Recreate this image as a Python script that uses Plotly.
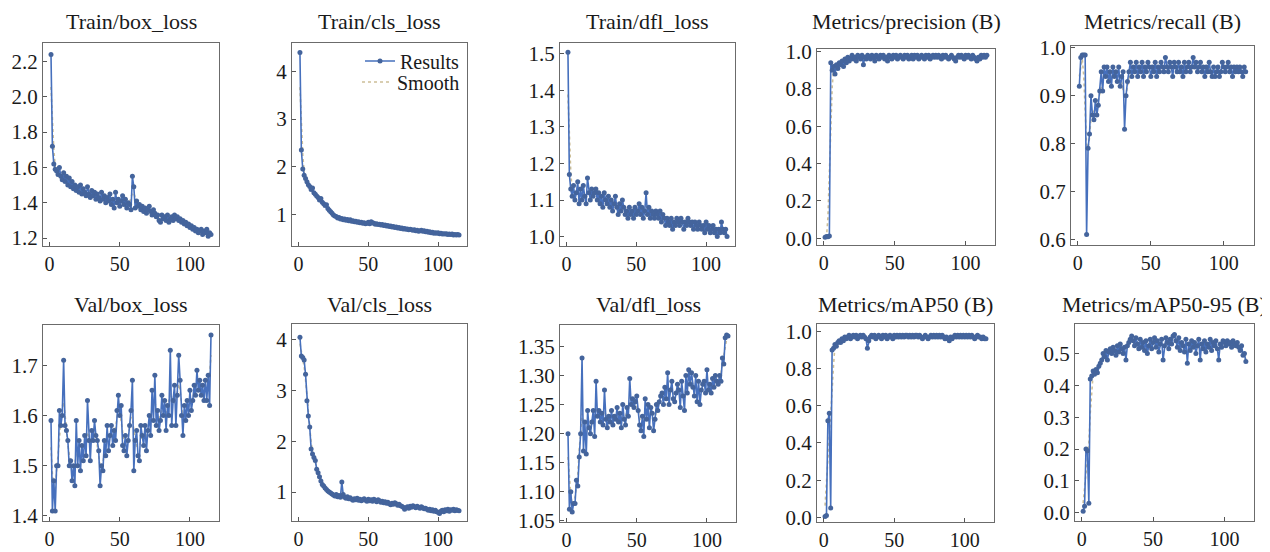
import numpy as np
import plotly.graph_objects as go
from plotly.subplots import make_subplots

titles = ['Train/box_loss', 'Train/cls_loss', 'Train/dfl_loss', 'Metrics/precision (B)', 'Metrics/recall (B)',
          'Val/box_loss', 'Val/cls_loss', 'Val/dfl_loss', 'Metrics/mAP50 (B)', 'Metrics/mAP50-95 (B)']

train_box = [2.24, 1.72, 1.62, 1.59, 1.58, 1.56, 1.60, 1.55, 1.53, 1.57,
             1.52, 1.55, 1.50, 1.54, 1.49, 1.52, 1.48, 1.50, 1.47, 1.49,
             1.46, 1.50, 1.45, 1.48, 1.46, 1.44, 1.49, 1.45, 1.43, 1.47,
             1.44, 1.46, 1.42, 1.45, 1.43, 1.41, 1.46, 1.42, 1.44, 1.40,
             1.43, 1.41, 1.45, 1.39, 1.42, 1.37, 1.46, 1.40, 1.42, 1.38,
             1.41, 1.44, 1.39, 1.42, 1.37, 1.40, 1.39, 1.36, 1.55, 1.49,
             1.37, 1.41, 1.38, 1.39, 1.36, 1.38, 1.35, 1.37, 1.34, 1.36,
             1.38, 1.35, 1.33, 1.36, 1.34, 1.32, 1.33, 1.30, 1.29, 1.33,
             1.31, 1.32, 1.30, 1.33, 1.29, 1.31, 1.32, 1.30, 1.33, 1.31,
             1.32, 1.30, 1.31, 1.29, 1.30, 1.28, 1.29, 1.27, 1.28, 1.26,
             1.27, 1.25, 1.26, 1.24, 1.25, 1.23, 1.24, 1.25, 1.22, 1.24,
             1.23, 1.25, 1.21, 1.23, 1.22]

train_cls = [4.40, 2.35, 1.95, 1.82, 1.75, 1.68, 1.62, 1.58, 1.52, 1.55,
             1.45, 1.42, 1.38, 1.35, 1.30, 1.33, 1.25, 1.22, 1.18, 1.20,
             1.12, 1.08, 1.05, 1.02, 0.98, 0.96, 0.95, 0.92, 0.93, 0.90,
             0.91, 0.88, 0.90, 0.87, 0.89, 0.86, 0.88, 0.85, 0.86, 0.84,
             0.85, 0.83, 0.84, 0.82, 0.83, 0.81, 0.82, 0.80, 0.81, 0.83,
             0.80, 0.84, 0.82, 0.81, 0.79, 0.80, 0.78, 0.79, 0.77, 0.78,
             0.76, 0.77, 0.75, 0.76, 0.74, 0.75, 0.73, 0.74, 0.72, 0.73,
             0.71, 0.72, 0.70, 0.71, 0.69, 0.70, 0.68, 0.69, 0.67, 0.68,
             0.67, 0.66, 0.67, 0.65, 0.66, 0.64, 0.65, 0.66, 0.64, 0.65,
             0.63, 0.64, 0.62, 0.63, 0.61, 0.62, 0.60, 0.61, 0.60, 0.61,
             0.59, 0.60, 0.58, 0.59, 0.58, 0.59, 0.57, 0.58, 0.57, 0.58,
             0.56, 0.57, 0.56, 0.57, 0.56]

train_dfl = [1.505, 1.17, 1.13, 1.11, 1.14, 1.10, 1.12, 1.15, 1.09, 1.13,
             1.10, 1.14, 1.11, 1.09, 1.16, 1.12, 1.10, 1.13, 1.11, 1.12,
             1.13, 1.10, 1.12, 1.09, 1.11, 1.08, 1.12, 1.10, 1.09, 1.11,
             1.08, 1.10, 1.07, 1.09, 1.11, 1.08, 1.06, 1.09, 1.07, 1.10,
             1.08, 1.06, 1.07, 1.05, 1.08, 1.06, 1.07, 1.05, 1.08, 1.06,
             1.07, 1.09, 1.06, 1.08, 1.05, 1.07, 1.12, 1.06, 1.08, 1.05,
             1.07, 1.06, 1.05, 1.07, 1.06, 1.05, 1.07, 1.04, 1.06, 1.05,
             1.03, 1.05, 1.04, 1.03, 1.05, 1.02, 1.04, 1.03, 1.05, 1.04,
             1.03, 1.05, 1.04, 1.02, 1.04, 1.03, 1.05, 1.04, 1.03, 1.04,
             1.02, 1.04, 1.03, 1.02, 1.04, 1.03, 1.02, 1.03, 1.01, 1.04,
             1.02, 1.03, 1.01, 1.02, 1.03, 1.01, 1.02, 1.00, 1.02, 1.01,
             1.04, 1.02, 1.01, 1.02, 1.00]

precision = [0.005, 0.010, 0.008, 0.012, 0.94, 0.90, 0.92, 0.88, 0.93, 0.91,
             0.94, 0.93, 0.95, 0.92, 0.96, 0.94, 0.97, 0.95, 0.96, 0.98,
             0.96, 0.97, 0.95, 0.98, 0.97, 0.96, 0.98, 0.93, 0.97, 0.96,
             0.98, 0.97, 0.96, 0.98, 0.97, 0.95, 0.98, 0.97, 0.96, 0.98,
             0.97, 0.98, 0.96, 0.97, 0.95, 0.98, 0.97, 0.96, 0.98, 0.97,
             0.98, 0.96, 0.97, 0.98, 0.97, 0.96, 0.98, 0.97, 0.98, 0.96,
             0.97, 0.98, 0.96, 0.98, 0.97, 0.98, 0.96, 0.97, 0.98, 0.97,
             0.96, 0.98, 0.97, 0.98, 0.96, 0.97, 0.98, 0.97, 0.98, 0.97,
             0.98, 0.97, 0.96, 0.98, 0.97, 0.98, 0.97, 0.96, 0.97, 0.98,
             0.97, 0.96, 0.95, 0.97, 0.98, 0.97, 0.98, 0.97, 0.96, 0.98,
             0.97, 0.98, 0.97, 0.96, 0.98, 0.97, 0.96, 0.95, 0.97, 0.96,
             0.98, 0.97, 0.98, 0.97, 0.98]

recall = [0.92, 0.98, 0.985, 0.985, 0.985, 0.61, 0.79, 0.82, 0.90, 0.86,
          0.85, 0.89, 0.86, 0.88, 0.91, 0.95, 0.91, 0.96, 0.94, 0.96,
          0.93, 0.95, 0.92, 0.96, 0.94, 0.95, 0.93, 0.96, 0.92, 0.94,
          0.95, 0.83, 0.90, 0.93, 0.95, 0.97, 0.94, 0.96, 0.95, 0.97,
          0.94, 0.96, 0.95, 0.97, 0.94, 0.96, 0.95, 0.97, 0.96, 0.94,
          0.96, 0.95, 0.97, 0.94, 0.96, 0.95, 0.97, 0.96, 0.95, 0.98,
          0.96, 0.95, 0.97, 0.96, 0.94, 0.97, 0.96, 0.95, 0.97, 0.95,
          0.96, 0.94, 0.97, 0.95, 0.96, 0.97, 0.95, 0.96, 0.98, 0.96,
          0.97, 0.95, 0.96, 0.97, 0.95, 0.96, 0.94, 0.96, 0.95, 0.97,
          0.95, 0.94, 0.96, 0.94, 0.95, 0.96, 0.94, 0.95, 0.97, 0.96,
          0.95, 0.96, 0.97, 0.95, 0.96, 0.94, 0.96, 0.95, 0.96, 0.95,
          0.96, 0.95, 0.94, 0.96, 0.95]

val_box = [1.59, 1.41, 1.47, 1.41, 1.50, 1.50, 1.61, 1.58, 1.60, 1.71,
           1.58, 1.57, 1.55, 1.50, 1.51, 1.47, 1.50, 1.46, 1.59, 1.50,
           1.55, 1.49, 1.54, 1.51, 1.56, 1.52, 1.63, 1.55, 1.51, 1.57,
           1.55, 1.59, 1.56, 1.55, 1.53, 1.46, 1.50, 1.49, 1.55, 1.52,
           1.58, 1.53, 1.56, 1.58, 1.54, 1.57, 1.55, 1.61, 1.64, 1.60,
           1.62, 1.54, 1.53, 1.56, 1.52, 1.55, 1.58, 1.61, 1.67, 1.49,
           1.55, 1.57, 1.52, 1.51, 1.58, 1.56, 1.54, 1.58, 1.53, 1.57,
           1.60, 1.56, 1.65, 1.59, 1.68, 1.58, 1.61, 1.57, 1.59, 1.64,
           1.60, 1.63, 1.57, 1.62, 1.60, 1.73, 1.58, 1.63, 1.66, 1.58,
           1.64, 1.72, 1.67, 1.60, 1.56, 1.62, 1.59, 1.63, 1.60, 1.65,
           1.61, 1.63, 1.66, 1.64, 1.69, 1.65, 1.67, 1.64, 1.66, 1.63,
           1.67, 1.63, 1.68, 1.62, 1.76]

val_cls = [4.05, 3.68, 3.65, 3.60, 3.32, 2.80, 2.50, 2.28, 1.85, 1.75,
           1.68, 1.62, 1.45, 1.38, 1.30, 1.22, 1.15, 1.12, 1.08, 1.05,
           1.02, 1.00, 0.98, 0.96, 0.94, 0.92, 0.95, 0.91, 0.93, 0.90,
           1.20, 0.95, 0.90, 0.88, 0.91, 0.87, 0.89, 0.86, 0.84, 0.87,
           0.85, 0.88, 0.84, 0.86, 0.83, 0.85, 0.87, 0.84, 0.82, 0.86,
           0.83, 0.85, 0.82, 0.86, 0.84, 0.81, 0.85, 0.83, 0.80, 0.82,
           0.79, 0.81, 0.78, 0.80, 0.77, 0.75, 0.78, 0.76, 0.79, 0.77,
           0.74, 0.76, 0.73, 0.72, 0.70, 0.66, 0.69, 0.71, 0.68, 0.72,
           0.70, 0.73, 0.71, 0.69, 0.72, 0.70, 0.68, 0.71, 0.69, 0.67,
           0.68, 0.66, 0.64, 0.66, 0.63, 0.65, 0.62, 0.64, 0.61, 0.60,
           0.58, 0.62, 0.64, 0.61, 0.65, 0.63, 0.66, 0.62, 0.65, 0.64,
           0.66, 0.63, 0.65, 0.64, 0.63]

val_dfl = [1.200, 1.070, 1.100, 1.065, 1.080, 1.080, 1.120, 1.110, 1.160, 1.200,
           1.330, 1.170, 1.220, 1.165, 1.240, 1.210, 1.200, 1.220, 1.240, 1.195,
           1.290, 1.230, 1.240, 1.220, 1.235, 1.215, 1.275, 1.225, 1.210, 1.230,
           1.220, 1.240, 1.215, 1.230, 1.225, 1.245, 1.220, 1.235, 1.210, 1.250,
           1.225, 1.215, 1.245, 1.230, 1.295, 1.250, 1.260, 1.245, 1.255, 1.265,
           1.240, 1.215, 1.205, 1.230, 1.195, 1.260, 1.225, 1.250, 1.210, 1.245,
           1.235, 1.205, 1.225, 1.250, 1.240, 1.255, 1.265, 1.270, 1.250, 1.280,
           1.260, 1.305, 1.250, 1.275, 1.290, 1.260, 1.255, 1.270, 1.285, 1.275,
           1.245, 1.290, 1.265, 1.240, 1.300, 1.270, 1.310, 1.285, 1.305, 1.280,
           1.265, 1.300, 1.255, 1.290, 1.250, 1.275, 1.285, 1.290, 1.270, 1.310,
           1.275, 1.285, 1.270, 1.295, 1.280, 1.300, 1.290, 1.285, 1.300, 1.290,
           1.330, 1.320, 1.365, 1.370, 1.368]

map50 = [0.005, 0.010, 0.52, 0.56, 0.05, 0.90, 0.91, 0.93, 0.92, 0.94,
         0.95, 0.94, 0.96, 0.95, 0.97, 0.96, 0.97, 0.98, 0.96, 0.97,
         0.98, 0.97, 0.98, 0.96, 0.97, 0.98, 0.97, 0.98, 0.97, 0.96,
         0.91, 0.95, 0.97, 0.98, 0.97, 0.98, 0.96, 0.97, 0.98, 0.97,
         0.96, 0.98, 0.97, 0.98, 0.96, 0.97, 0.98, 0.97, 0.96, 0.98,
         0.97, 0.98, 0.97, 0.98, 0.97, 0.98, 0.97, 0.98, 0.98, 0.97,
         0.98, 0.97, 0.98, 0.97, 0.98, 0.98, 0.97, 0.98, 0.97, 0.96,
         0.97, 0.98, 0.97, 0.96, 0.97, 0.98, 0.97, 0.98, 0.97, 0.98,
         0.97, 0.98, 0.97, 0.98, 0.97, 0.96, 0.97, 0.96, 0.95, 0.97,
         0.96, 0.97, 0.98, 0.97, 0.98, 0.97, 0.98, 0.97, 0.98, 0.97,
         0.98, 0.97, 0.98, 0.97, 0.98, 0.97, 0.96, 0.97, 0.98, 0.97,
         0.97, 0.96, 0.97, 0.96, 0.96]

map50_95 = [0.005, 0.020, 0.200, 0.195, 0.030, 0.420, 0.430, 0.445, 0.435, 0.450,
            0.440, 0.460, 0.470, 0.480, 0.500, 0.490, 0.510, 0.480, 0.505, 0.515,
            0.500, 0.520, 0.510, 0.495, 0.525, 0.505, 0.530, 0.515, 0.500, 0.520,
            0.480, 0.525, 0.535, 0.545, 0.555, 0.540, 0.525, 0.550, 0.530, 0.515,
            0.545, 0.520, 0.535, 0.510, 0.540, 0.500, 0.525, 0.545, 0.515, 0.535,
            0.550, 0.520, 0.540, 0.505, 0.530, 0.545, 0.480, 0.525, 0.550, 0.535,
            0.515, 0.545, 0.530, 0.555, 0.560, 0.540, 0.520, 0.550, 0.510, 0.535,
            0.525, 0.505, 0.545, 0.470, 0.530, 0.510, 0.540, 0.520, 0.535, 0.500,
            0.525, 0.545, 0.480, 0.530, 0.515, 0.540, 0.505, 0.530, 0.520, 0.545,
            0.510, 0.535, 0.525, 0.540, 0.515, 0.480, 0.530, 0.520, 0.540, 0.535,
            0.525, 0.540, 0.530, 0.535, 0.520, 0.540, 0.530, 0.525, 0.535, 0.520,
            0.510, 0.525, 0.495, 0.500, 0.475]

series = [train_box, train_cls, train_dfl, precision, recall,
          val_box, val_cls, val_dfl, map50, map50_95]

# y ranges and tick settings per panel
y_ranges = [[1.155, 2.305], [0.33, 4.6], [0.974, 1.53], [-0.036, 1.014], [0.588, 1.004],
            [1.39, 1.78], [0.43, 4.31], [1.048, 1.387], [-0.025, 1.04], [-0.026, 0.593]]
y_ticks = [[1.2, 1.4, 1.6, 1.8, 2.0, 2.2], [1, 2, 3, 4], [1.0, 1.1, 1.2, 1.3, 1.4, 1.5],
           [0, 0.2, 0.4, 0.6, 0.8, 1.0], [0.6, 0.7, 0.8, 0.9, 1.0],
           [1.4, 1.5, 1.6, 1.7], [1, 2, 3, 4], [1.05, 1.10, 1.15, 1.20, 1.25, 1.30, 1.35],
           [0, 0.2, 0.4, 0.6, 0.8, 1.0], [0, 0.1, 0.2, 0.3, 0.4, 0.5]]
y_fmt = ['.1f', 'd', '.1f', '.1f', '.1f', '.1f', 'd', '.2f', '.1f', '.1f']

# page pixel boxes (left, right, top, bottom); the page body adds an 8px margin
PAD = 8
W, H = 1270 - PAD, 552 - PAD
boxes = [(43, 219, 43, 246), (292, 467, 43, 246), (560, 735, 43, 246), (817, 995, 49, 245), (1071, 1254, 46, 245),
         (43, 219, 325, 521), (292, 467, 324, 521), (560, 736, 325, 522), (817, 994, 324, 522), (1075, 1254, 324, 521)]
title_y = [21] * 5 + [304] * 5


def px(v):
    return (v - PAD) / W


def py(v):
    return 1 - (v - PAD) / H


fig = make_subplots(rows=2, cols=5)

line_col = '#4670bd'
mark_col = '#44649c'
smooth_col = '#cdbf98'
font = 'Liberation Serif, Times New Roman, serif'

for i, y in enumerate(series):
    r, c = i // 5 + 1, i % 5 + 1
    ep = list(range(1, len(y) + 1))
    k = np.array([1, 2, 3, 2, 1]) / 9
    sm = np.convolve(np.pad(y, 2, mode='edge'), k, mode='valid')
    fig.add_trace(go.Scatter(x=ep, y=sm, mode='lines', name='Smooth',
                             line=dict(color=smooth_col, width=1.6, dash='dot'),
                             showlegend=(i == 1), legend='legend2'), row=r, col=c)
    fig.add_trace(go.Scatter(x=ep, y=y, mode='lines+markers', name='Results',
                             line=dict(color=line_col, width=1.6),
                             marker=dict(color=mark_col, size=5),
                             showlegend=(i == 1), legend='legend'), row=r, col=c)

    l, rt, t, b = boxes[i]
    fig.update_xaxes(domain=[px(l), px(rt)], range=[-4.7, 120.7], tickvals=[0, 50, 100],
                     row=r, col=c)
    fig.update_yaxes(domain=[py(b), py(t)], range=y_ranges[i], tickvals=y_ticks[i],
                     tickformat=y_fmt[i], row=r, col=c)
    fig.add_annotation(text=titles[i], x=px((l + rt) / 2), y=py(title_y[i]),
                       xref='paper', yref='paper', xanchor='center', yanchor='middle',
                       showarrow=False, font=dict(size=22, color='#1a1a1a', family=font))

axis_style = dict(showline=True, mirror=True, linecolor='#6b6b6b', linewidth=1,
                  ticks='inside', ticklen=4, tickcolor='#555555', showgrid=False, zeroline=False,
                  automargin=False)
fig.update_xaxes(**axis_style, tickfont=dict(size=20, color='#1a1a1a', family=font))
fig.update_yaxes(**axis_style, tickfont=dict(size=21, color='#1a1a1a', family=font))

leg = dict(xanchor='right', yanchor='middle', bgcolor='rgba(0,0,0,0)',
           font=dict(size=20, family=font, color='#1a1a1a'), itemwidth=30)
fig.update_layout(
    width=W, height=H,
    margin=dict(l=0, r=0, t=0, b=0),
    paper_bgcolor='white', plot_bgcolor='white',
    font=dict(family=font, color='#1a1a1a'),
    legend=dict(x=px(465), y=py(61), **leg),
    legend2=dict(x=px(465), y=py(82), **leg),
)

fig.write_html("out.html")
